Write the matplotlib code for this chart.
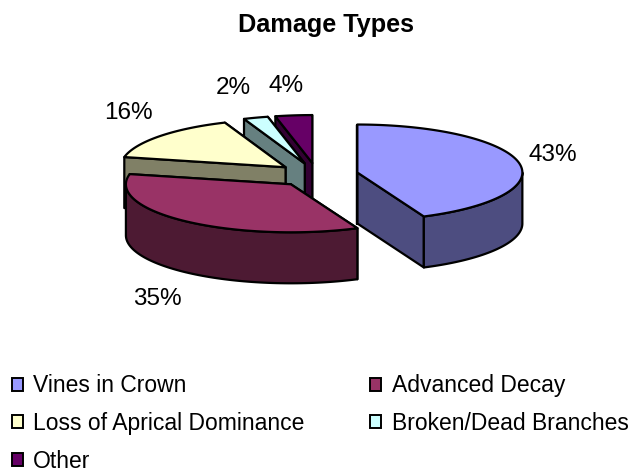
#!/usr/bin/env python3

import numpy as np
import matplotlib
matplotlib.use('Agg')
import matplotlib.pyplot as plt
from matplotlib.patches import Patch

plt.rcParams['font.family'] = ['Liberation Sans', 'DejaVu Sans']

categories = ['Vines in Crown', 'Advanced Decay', 'Loss of Aprical Dominance',
              'Broken/Dead Branches', 'Other']
values = [43.4, 35.0, 15.6, 2.4, 3.6]
top_colors = ['#9999FF', '#993366', '#FFFFCC', '#CCFFFF', '#660066']
side_colors = ['#4D4D80', '#4D1A33', '#808066', '#668080', '#330033']

# pie geometry, in pixels of the figure
CX, CY = 317, 175
RX, RY = 165, 48
DEPTH = 51
EXPLODE = 0.25
LABEL_XY = [(553, 155), (157, 299), (128, 113), (233, 88), (286, 86)]
LW = 1.6


def point(cx, cy, angle):
    # angle in degrees, clockwise from 12 o'clock
    a = np.radians(angle)
    return cx + RX * np.sin(a), cy - RY * np.cos(a)


def draw_face(ax, xs, ys, color, zorder):
    ax.fill(xs, ys, facecolor=color, edgecolor='black', linewidth=LW,
            joinstyle='round', zorder=zorder)


def draw_slice(ax, start, end, top, side, zorder):
    mid = (start + end) / 2
    cx, cy = point(CX, CY, mid)
    cx = CX + EXPLODE * (cx - CX)
    cy = CY + EXPLODE * (cy - CY)

    # cut walls first, the top face and rim paint over the hidden ones
    for wall in (end, start):
        x, y = point(cx, cy, wall)
        draw_face(ax, [cx, x, x, cx], [cy, y, y + DEPTH, cy + DEPTH], side, zorder)

    # outer rim, only the part facing the viewer
    lo, hi = max(start, 90), min(end, 270)
    if lo < hi:
        x, y = point(cx, cy, np.linspace(lo, hi, 80))
        draw_face(ax, np.r_[x, x[::-1]], np.r_[y, y[::-1] + DEPTH], side, zorder)

    x, y = point(cx, cy, np.linspace(start, end, 120))
    draw_face(ax, np.r_[cx, x], np.r_[cy, y], top, zorder)


fig = plt.figure(figsize=(6.31, 4.72), dpi=100)
ax = fig.add_axes([0, 0, 1, 1])
ax.set_xlim(0, 631)
ax.set_ylim(472, 0)
ax.axis('off')

angles = np.r_[0, np.cumsum(values)] / sum(values) * 360
# painter's order: back slices first, the big front one last
order = [4, 3, 2, 0, 1]
for z, i in enumerate(order):
    draw_slice(ax, angles[i], angles[i + 1], top_colors[i], side_colors[i], z + 2)

for val, (x, y) in zip(values, LABEL_XY):
    ax.text(x, y, '%d%%' % round(val), fontsize=17.5, ha='center', va='center', zorder=10)

ax.text(326, 25, 'Damage Types', fontsize=18.2, fontweight='bold', ha='center', va='center')

# legend fills by column, so hand the entries over in column order
handles = [Patch(facecolor=top_colors[i], edgecolor='black', linewidth=1.4,
                 label=categories[i]) for i in [0, 2, 4, 1, 3]]
ax.legend(handles=handles, ncol=2, loc='upper left', bbox_to_anchor=(0.002, 0.229),
          frameon=False, fontsize=16.5, handlelength=0.5, handleheight=0.5,
          handletextpad=0.45, columnspacing=2.85, labelspacing=0.64,
          borderaxespad=0, borderpad=0.45)

fig.savefig('out.png', dpi=100)
